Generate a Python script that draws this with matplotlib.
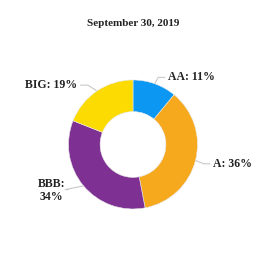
import matplotlib
matplotlib.use("Agg")
import matplotlib.pyplot as plt
import numpy as np

title = "September 30, 2019"
labels = ["AA: 11%", "A: 36%", "BBB:\n34%", "BIG: 19%"]
shares = [11, 36, 34, 19]
colors = ["#0B97F2", "#F6A91D", "#7E3193", "#FCDB02"]

# label anchor points and alignment (data units, radius = 1)
label_xy = [(0.54, 1.05), (1.24, -0.30), (-1.26, -0.71), (-0.87, 0.92)]
label_ha = ["left", "left", "center", "right"]
# leader elbow points
elbow_xy = [(0.39, 1.04), (1.10, -0.30), (-1.05, -0.70), (-0.70, 0.92)]

plt.rcParams['font.family'] = ['Liberation Serif', 'DejaVu Serif']

fig = plt.figure(figsize=(2.66, 2.66), dpi=100)
ax = fig.add_axes([0, 0, 1, 1])

wedges, _ = ax.pie(shares, colors=colors, startangle=90, counterclock=False,
                   radius=1, wedgeprops=dict(width=0.49, edgecolor="#E8E8E8", linewidth=0.4))

total = float(sum(shares))
start = 90.0
for i, s in enumerate(shares):
    mid = np.deg2rad(start - s / total * 360 / 2)
    start -= s / total * 360
    px, py = np.cos(mid) * 1.01, np.sin(mid) * 1.01
    ex, ey = elbow_xy[i]
    lx, ly = label_xy[i]
    if label_ha[i] == "left":
        endx = lx - 0.05
    elif label_ha[i] == "right":
        endx = lx + 0.06
    else:
        endx = lx + 0.25
    ax.plot([px, ex, endx], [py, ey, ey], color="#C8C8C8", lw=0.8)
    ax.text(lx, ly, labels[i], ha=label_ha[i], va="center", fontsize=8.5,
            fontweight="bold", color="#222222", linespacing=1.1)

ax.text(0, 1.87, title, ha="center", va="center", fontsize=8,
        fontweight="bold", color="#222222")

ax.set_xlim(-2.062, 2.062)
ax.set_ylim(-1.884, 2.240)
ax.set_aspect("auto")
ax.axis("off")

fig.savefig("out.png", dpi=100, facecolor="white")
